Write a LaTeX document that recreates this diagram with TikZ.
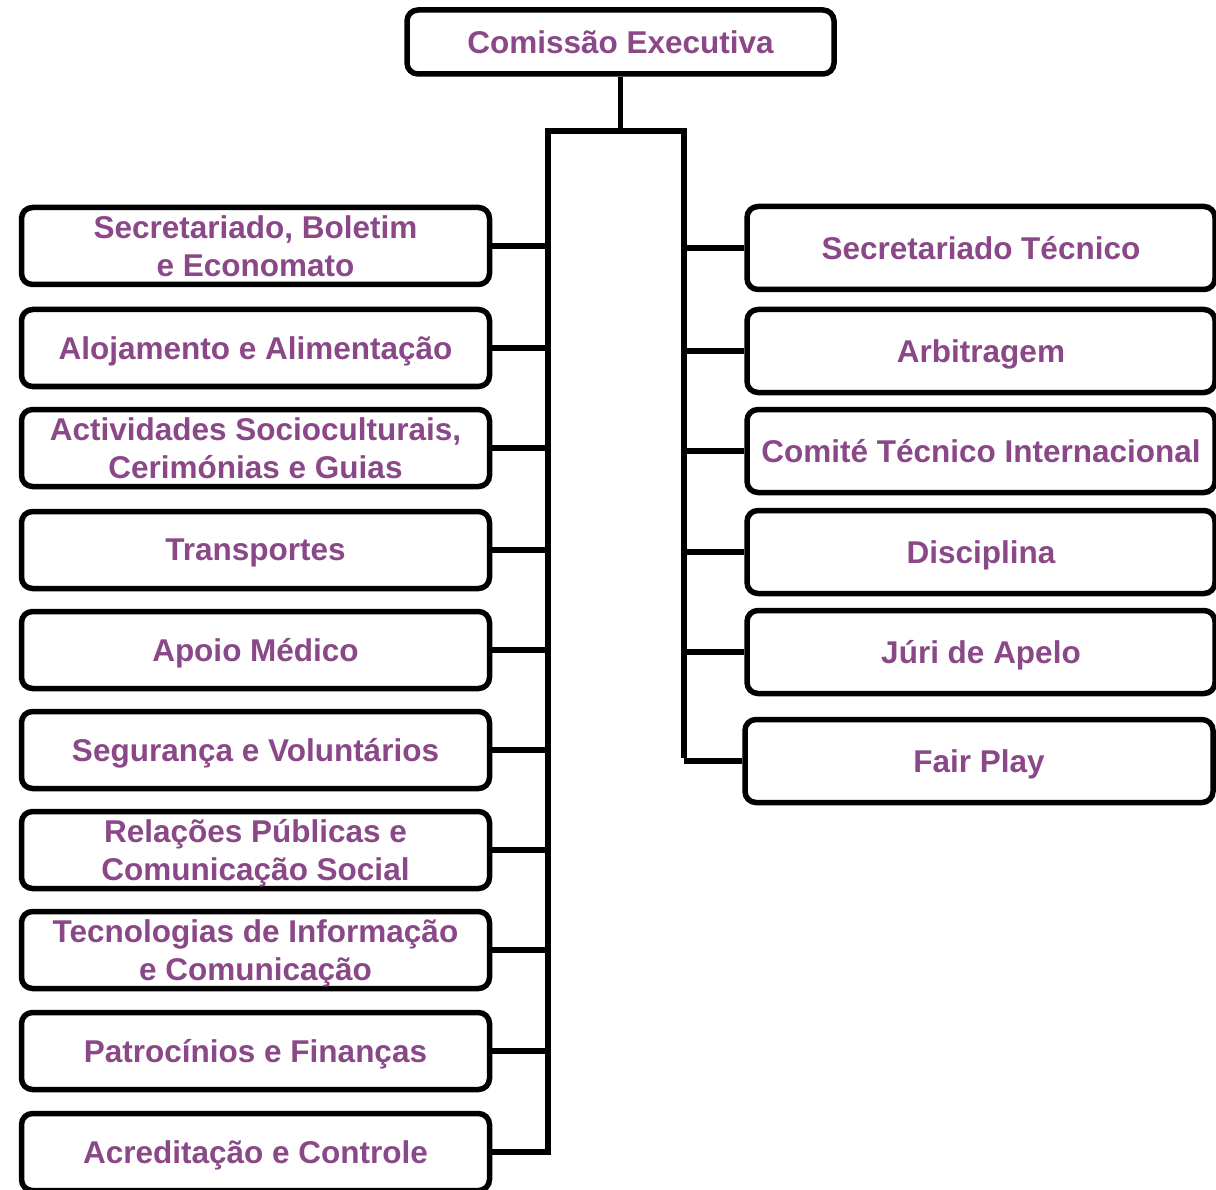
\documentclass[tikz,border=0pt]{standalone}
\usepackage{fontspec}
\setmainfont{Liberation Sans}
\definecolor{roxo}{RGB}{139,72,136}

\begin{document}
\begin{tikzpicture}[x=1pt,y=1pt,yscale=-1,
  caixa/.style={draw=black, line width=5.5pt, rounded corners=11pt, fill=white,
    text=roxo, align=center, inner sep=2pt, text depth=0pt,
    font=\fontsize{31.5}{38.5}\selectfont\bfseries},
  esq/.style={caixa, minimum width=468pt, minimum height=77pt},
  dir/.style={caixa, minimum width=468pt, minimum height=83pt},
  linha/.style={line width=5.5pt}]
\useasboundingbox (0,0) rectangle (1216,1190);

%Shape: Top box
\node [caixa, minimum width=427pt, minimum height=64pt] (ce) at (620.5,42) {Comissão Executiva};

%Straight Lines: trunk and branches
\coordinate (lt) at (548,131);
\coordinate (rt) at (684,131);
\coordinate (lb) at (548,1155);
\coordinate (rb) at (684,758);
\draw [linha] (ce.south) -- (ce.south |- lt);
\draw [linha, line cap=rect] (lt) -- (rt);
\draw [linha] (lt) -- (lb);
\draw [linha] (rt) -- (rb);

% Left column
\node [esq] (l1) at (255.5,246) {Secretariado, Boletim\\e Economato};
\node [esq] (l2) at (255.5,348) {Alojamento e Alimentação};
\node [esq] (l3) at (255.5,448) {Actividades Socioculturais,\\Cerimónias e Guias};
\node [esq] (l4) at (255.5,550) {Transportes};
\node [esq] (l5) at (255.5,650) {Apoio Médico};
\node [esq] (l6) at (255.5,750) {Segurança e Voluntários};
\node [esq] (l7) at (255.5,850) {Relações Públicas e\\Comunicação Social};
\node [esq] (l8) at (255.5,950) {Tecnologias de Informação\\e Comunicação};
\node [esq] (l9) at (255.5,1051) {Patrocínios e Finanças};
\node [esq] (l10) at (255.5,1152) {Acreditação e Controle};

% Right column
\node [dir] (r1) at (981,248) {Secretariado Técnico};
\node [dir] (r2) at (981,351) {Arbitragem};
\node [dir] (r3) at (981,451) {Comité Técnico Internacional};
\node [dir] (r4) at (981,552) {Disciplina};
\node [dir] (r5) at (981,652) {Júri de Apelo};
\node [dir] (r6) at (979,761) {Fair Play};

% Connectors
\foreach \n in {l1,l2,l3,l4,l5,l6,l7,l8,l9,l10}
  \draw [linha] (\n.east) -- (\n.east -| lt);
\foreach \n in {r1,r2,r3,r4,r5,r6}
  \draw [linha] (\n.west) -- (\n.west -| rt);

\end{tikzpicture}
\end{document}
